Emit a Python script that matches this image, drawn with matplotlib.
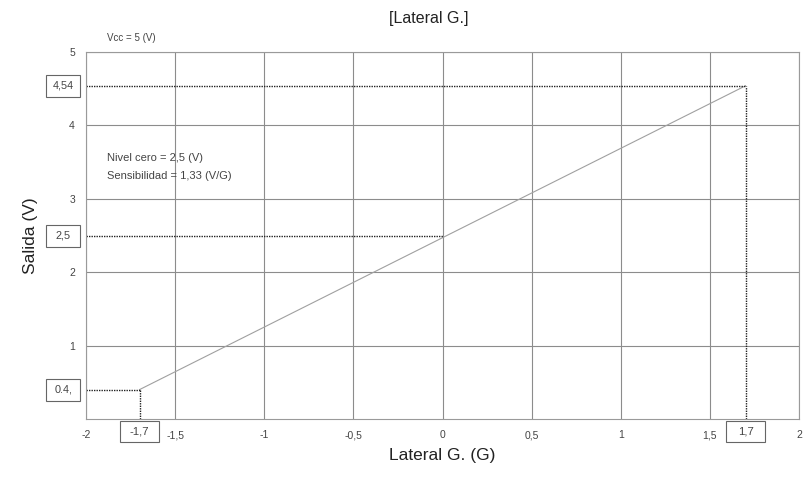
import matplotlib
matplotlib.use("Agg")
import matplotlib.pyplot as plt
from matplotlib.patches import Rectangle
import matplotlib.transforms as mtrans

plt.rcParams['font.family'] = ['Liberation Sans', 'DejaVu Sans']

x_ticks = [-2, -1.5, -1, -0.5, 0, 0.5, 1, 1.5, 2]
x_tick_labels = ["-2", "-1,5", "-1", "-0,5", "0", "0,5", "1", "1,5", "2"]
y_ticks = [1, 2, 3, 4, 5]
y_tick_labels = ["1", "2", "3", "4", "5"]

line_x = [-1.7, 1.7]
line_y = [0.4, 4.54]

ref_x = [-1.7, 0, 1.7]
ref_y = [0.4, 2.5, 4.54]
ref_y_labels = ["0.4,", "2,5", "4,54"]
ref_x_labels = ["-1,7", "1,7"]
ref_x_pos = [-1.7, 1.7]

fig = plt.figure(figsize=(8.04, 4.79), dpi=100)
ax = fig.add_axes([0.107, 0.1253, 0.8868, 0.7661])
ax.set_xlim(-2, 2)
ax.set_ylim(0, 5)

ax.set_xticks(x_ticks)
ax.set_xticklabels(x_tick_labels)
ax.set_yticks(y_ticks)
ax.set_yticklabels(y_tick_labels)
ax.tick_params(length=0, labelsize=7.5, labelcolor='#444444', pad=8)
ax.grid(True, color='#8c8c8c', linewidth=0.8)
ax.set_axisbelow(True)
for s in ax.spines.values():
    s.set_color('#9a9a9a')
    s.set_linewidth(0.8)

# main line
ax.plot(line_x, line_y, color='#a0a0a0', linewidth=0.8)

# dotted reference lines
dot = (0, (1, 0.8))
for xv, yv in zip(ref_x, ref_y):
    ax.plot([-2, xv], [yv, yv], color='#222222', linewidth=1.0, linestyle=dot)
for xv, yv in [(ref_x[0], ref_y[0]), (ref_x[2], ref_y[2])]:
    ax.plot([xv, xv], [0, yv], color='#222222', linewidth=1.0, linestyle=dot)

# fixed-size (pixel) boxes around the marked values
tr_y = mtrans.blended_transform_factory(ax.transAxes, ax.transData)
for yv, lab in zip(ref_y, ref_y_labels):
    x0, y0 = tr_y.transform((0, yv))
    r = Rectangle((x0 - 40, y0 - 11), 34, 22, facecolor='white', edgecolor='#666666',
                  linewidth=0.8, clip_on=False, transform=mtrans.IdentityTransform())
    ax.add_artist(r)
    ax.text(-0.032, yv, lab, transform=tr_y, ha='center', va='center', fontsize=7.8,
            color='#444444', clip_on=False, zorder=5)

tr_x = mtrans.blended_transform_factory(ax.transData, ax.transAxes)
for xv, lab in zip(ref_x_pos, ref_x_labels):
    x0, y0 = tr_x.transform((xv, 0))
    r = Rectangle((x0 - 19.5, y0 - 23), 39, 21, facecolor='white', edgecolor='#666666',
                  linewidth=0.8, clip_on=False, transform=mtrans.IdentityTransform())
    ax.add_artist(r)
    ax.text(xv, -0.035, lab, transform=tr_x, ha='center', va='center', fontsize=8.2,
            color='#444444', clip_on=False, zorder=5)

ax.set_xlabel("Lateral G. (G)", fontsize=12.5, color='#222222', labelpad=6)
ax.set_ylabel("Salida (V)", fontsize=12.5, color='#222222', labelpad=22)

fig.text(0.533, 0.962, "[Lateral G.]", ha='center', va='center', fontsize=11.5, color='#222222')
fig.text(0.133, 0.921, "Vcc = 5 (V)", ha='left', va='center', fontsize=7, color='#444444')
ax.text(-1.88, 3.56, "Nivel cero = 2,5 (V)", ha='left', va='center', fontsize=8, color='#444444')
ax.text(-1.88, 3.31, "Sensibilidad = 1,33 (V/G)", ha='left', va='center', fontsize=8, color='#444444')

fig.savefig("out.png", dpi=100)
